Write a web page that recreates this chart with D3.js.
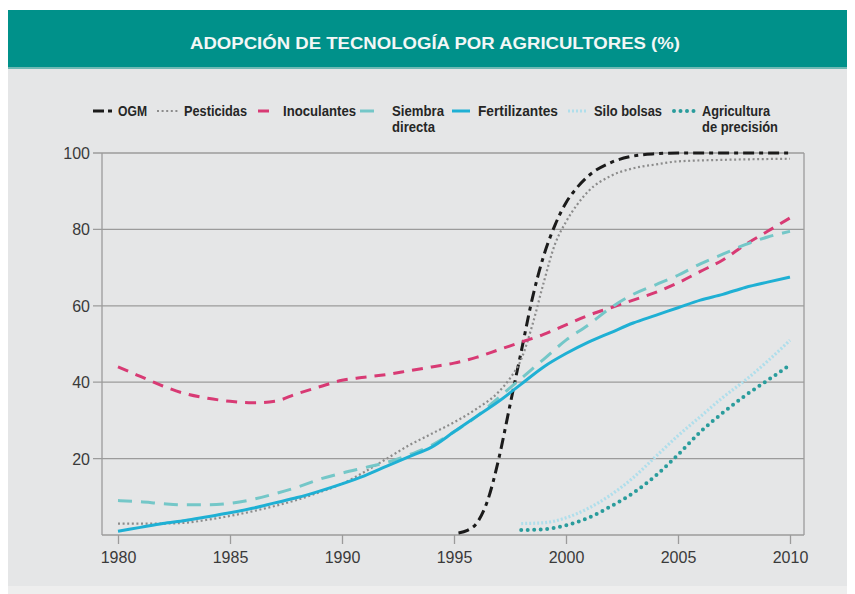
<!DOCTYPE html>
<html>
<head>
<meta charset="utf-8">
<script src="https://cdn.jsdelivr.net/npm/d3@7"></script>
<style>
  body { margin: 0; background: #fff; }
  svg { display: block; }
</style>
</head>
<body>
<div id="chart"></div>
<script>
// data
const title = "ADOPCIÓN DE TECNOLOGÍA POR AGRICULTORES (%)";
const xTicks = [1980, 1985, 1990, 1995, 2000, 2005, 2010];
const yTicks = [20, 40, 60, 80, 100];

const ogmYears = [1995.2, 1995.6, 1996, 1996.5, 1997, 1997.5, 1998, 1998.5, 1999, 1999.5, 2000, 2000.5, 2001, 2002, 2003, 2004, 2005, 2010];
const ogmVals  = [0.5, 1.2, 3, 9, 20, 34, 48, 62, 73, 81, 87, 91, 94, 97.5, 99.2, 99.8, 100, 100];

const pestYears = [1980, 1981, 1982, 1983, 1984, 1985, 1986, 1987, 1988, 1989, 1990, 1991, 1992, 1993, 1994, 1995, 1996, 1997, 1997.5, 1998, 1998.5, 1999, 1999.5, 2000, 2000.5, 2001, 2002, 2003, 2004, 2005, 2007, 2010];
const pestVals  = [3, 3, 3, 3.2, 4, 5, 6.2, 7.6, 9.2, 11.2, 13.4, 16.5, 20, 23.5, 26.5, 29.5, 33, 37.5, 41, 46, 55, 66, 76, 82, 86.5, 90, 94, 96, 97, 97.8, 98.2, 98.5];

const years = d3.range(1980, 2011);
const inocVals = [44, 41.5, 39, 37, 35.8, 35, 34.6, 35, 37, 38.8, 40.5, 41.3, 42, 43, 44, 45, 46.5, 48.5, 50.5, 52.5, 55, 57.5, 59.5, 61.5, 63.5, 66, 69, 72, 76, 79.5, 83];
const siembraVals = [9, 8.7, 8.2, 7.9, 7.9, 8.3, 9.3, 10.8, 12.5, 14.6, 16.2, 17.6, 19, 21, 23.5, 27, 31, 36, 41, 46, 51, 55, 59.5, 63, 65.5, 68, 71, 73.5, 76, 78, 79.5];
const fertVals = [1, 2, 3, 3.8, 4.8, 5.8, 7, 8.4, 9.8, 11.5, 13.4, 15.5, 18, 20.5, 23, 27, 31, 35, 39.5, 44, 47.5, 50.5, 53, 55.5, 57.5, 59.5, 61.5, 63, 64.8, 66.2, 67.5];

const lateYears = d3.range(1998, 2011);
const siloVals = [3, 3.2, 4.5, 7, 10.5, 15, 20.5, 26, 31, 36, 40.5, 45.5, 51];
const precVals = [1.3, 1.5, 2.5, 4.5, 7.5, 11, 15.5, 21, 27, 32, 36.5, 40.5, 44.5];

const seriesNames = ["OGM", "Pesticidas", "Inoculantes", "Siembra directa", "Fertilizantes", "Silo bolsas", "Agricultura de precisión"];

// styles
const styles = {
  "OGM":                      {color: "#1b1b1b", width: 3,   dash: "11,5,4,5", cap: "butt"},
  "Pesticidas":               {color: "#8c8c8c", width: 2.2, dash: "2,2.6",   cap: "butt"},
  "Inoculantes":              {color: "#d83a74", width: 3,   dash: "11,8",    cap: "butt"},
  "Siembra directa":          {color: "#74c7c8", width: 3,   dash: "14,9",    cap: "butt"},
  "Fertilizantes":            {color: "#1fb0d4", width: 3,   dash: null,      cap: "butt"},
  "Silo bolsas":              {color: "#afdeeb", width: 3.2, dash: "2,2",     cap: "butt"},
  "Agricultura de precisión": {color: "#2a9c9c", width: 4,   dash: "0,6.5",   cap: "round"}
};

const series = [
  {name: "OGM", xs: ogmYears, ys: ogmVals},
  {name: "Pesticidas", xs: pestYears, ys: pestVals},
  {name: "Inoculantes", xs: years, ys: inocVals},
  {name: "Siembra directa", xs: years, ys: siembraVals},
  {name: "Silo bolsas", xs: lateYears, ys: siloVals},
  {name: "Agricultura de precisión", xs: lateYears, ys: precVals},
  {name: "Fertilizantes", xs: years, ys: fertVals}
];

const W = 855, H = 594;
const svg = d3.select("#chart").append("svg")
  .attr("width", W)
  .attr("height", H);

// panel + header
svg.append("rect").attr("x", 8).attr("y", 68).attr("width", 839).attr("height", 518).attr("fill", "#e5e6e7");
svg.append("rect").attr("x", 8).attr("y", 586).attr("width", 839).attr("height", 8).attr("fill", "#eeeeee");
svg.append("rect").attr("x", 8).attr("y", 10).attr("width", 839).attr("height", 58).attr("fill", "#00918a");
svg.append("rect").attr("x", 8).attr("y", 67).attr("width", 839).attr("height", 2).attr("fill", "#6fb9b4");

svg.append("text")
  .attr("x", 435).attr("y", 49)
  .attr("text-anchor", "middle")
  .attr("font-family", "'Liberation Sans Narrow', 'Liberation Sans', Arial, sans-serif")
  .attr("font-weight", "bold")
  .attr("font-size", 16.5)
  .attr("fill", "#f2f7f6")
  .attr("textLength", 490)
  .attr("lengthAdjust", "spacingAndGlyphs")
  .text(title);

// scales
const x = d3.scaleLinear().domain([1980, 2010]).range([118, 790]);
const y = d3.scaleLinear().domain([0, 100]).range([535, 153]);
const plotL = 102, plotR = 804;

// grid
const grid = svg.append("g");
grid.selectAll("line")
  .data(yTicks)
  .join("line")
    .attr("x1", 93).attr("x2", plotR)
    .attr("y1", d => y(d)).attr("y2", d => y(d))
    .attr("stroke", "#9b9b9b").attr("stroke-width", 1.3);

// frame
svg.append("line").attr("x1", plotL).attr("x2", plotL).attr("y1", y(100)).attr("y2", y(0)).attr("stroke", "#9b9b9b").attr("stroke-width", 1.3);
svg.append("line").attr("x1", plotR).attr("x2", plotR).attr("y1", y(100)).attr("y2", y(0)).attr("stroke", "#9b9b9b").attr("stroke-width", 1.3);

// y labels
svg.append("g").selectAll("text")
  .data(yTicks)
  .join("text")
    .attr("x", 90).attr("y", d => y(d) + 6)
    .attr("text-anchor", "end")
    .attr("font-family", "'Liberation Sans', Arial, sans-serif")
    .attr("font-size", 16)
    .attr("fill", "#3a3a3a")
    .text(d => d);

// x axis
const xAxis = svg.append("g")
  .attr("transform", `translate(0,${y(0)})`)
  .call(d3.axisBottom(x).tickValues(xTicks).tickFormat(d3.format("d")).tickSize(9).tickPadding(8));
xAxis.select(".domain").attr("d", `M${plotL},0H${plotR}`).attr("stroke", "#9b9b9b").attr("stroke-width", 1.3);
xAxis.selectAll(".tick line").attr("stroke", "#9b9b9b").attr("stroke-width", 1.3);
xAxis.selectAll(".tick text")
  .attr("font-family", "'Liberation Sans', Arial, sans-serif")
  .attr("font-size", 16)
  .attr("fill", "#3a3a3a");

// lines
const line = d3.line()
  .x(d => x(d[0]))
  .y(d => y(d[1]))
  .curve(d3.curveMonotoneX);

svg.append("g").selectAll("path")
  .data(series)
  .join("path")
    .attr("d", s => line(s.xs.map((v, i) => [v, s.ys[i]])))
    .attr("fill", "none")
    .attr("stroke", s => styles[s.name].color)
    .attr("stroke-width", s => styles[s.name].width)
    .attr("stroke-dasharray", s => styles[s.name].dash)
    .attr("stroke-linecap", s => styles[s.name].cap);

// legend
const legendLayout = [
  {x0: 93,  x1: 112, tx: 118, lines: ["OGM"], len: [29]},
  {x0: 157, x1: 179, tx: 184, lines: ["Pesticidas"], len: [63]},
  {x0: 258, x1: 274, tx: 283, lines: ["Inoculantes"], len: [73]},
  {x0: 360, x1: 380, tx: 392, lines: ["Siembra", "directa"], len: [52, 43]},
  {x0: 452, x1: 470, tx: 478, lines: ["Fertilizantes"], len: [80]},
  {x0: 568, x1: 586, tx: 594, lines: ["Silo bolsas"], len: [68]},
  {x0: 674, x1: 694, tx: 702, lines: ["Agricultura", "de precisión"], len: [68, 76]}
];
const legend = svg.append("g");
seriesNames.forEach((name, i) => {
  const L = legendLayout[i], st = styles[name];
  legend.append("line")
    .attr("x1", L.x0).attr("x2", L.x1)
    .attr("y1", 111).attr("y2", 111)
    .attr("stroke", st.color)
    .attr("stroke-width", st.width)
    .attr("stroke-dasharray", name === "OGM" ? "11,4,4,50" : st.dash)
    .attr("stroke-linecap", st.cap);
  L.lines.forEach((t, j) => {
    legend.append("text")
      .attr("x", L.tx).attr("y", 116 + j * 16)
      .attr("font-family", "'Liberation Sans Narrow', 'Liberation Sans', Arial, sans-serif")
      .attr("font-weight", "bold")
      .attr("font-size", 15)
      .attr("fill", "#262626")
      .attr("textLength", L.len[j])
      .attr("lengthAdjust", "spacingAndGlyphs")
      .text(t);
  });
});
</script>
</body>
</html>
